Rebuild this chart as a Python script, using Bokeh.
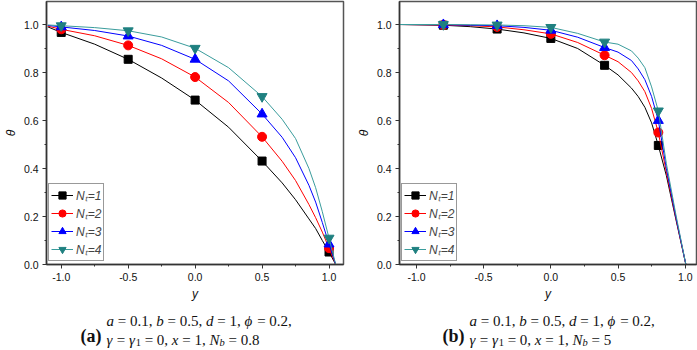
from bokeh.plotting import figure
from bokeh.layouts import row, column
from bokeh.models import (Legend, LegendItem, SingleIntervalTicker,
                          NumeralTickFormatter)
from bokeh.core.properties import value
from bokeh.embed import file_html
from bokeh.resources import INLINE

# ---------------- data ----------------
series_labels = ["N\u209c=1", "N\u209c=2", "N\u209c=3", "N\u209c=4"]

# panel (a): N_b = 0.8
mark_x_a = [-1.0, -0.5, 0.0, 0.5, 1.0]
mark_a1 = [0.967, 0.855, 0.685, 0.431, 0.052]
mark_a2 = [0.980, 0.913, 0.781, 0.532, 0.068]
mark_a3 = [0.990, 0.952, 0.855, 0.627, 0.085]
mark_a4 = [0.995, 0.974, 0.901, 0.700, 0.110]

curve_x_a = [-1.1, -1.0, -0.75, -0.5, -0.25, 0.0, 0.25, 0.5, 0.65, 0.75, 0.85, 0.9, 0.95, 1.0, 1.05]
curve_a1 = [0.990, 0.967, 0.918, 0.855, 0.777, 0.685, 0.572, 0.431, 0.340, 0.270, 0.190, 0.150, 0.100, 0.052, 0.0]
curve_a2 = [0.993, 0.980, 0.953, 0.913, 0.857, 0.781, 0.675, 0.532, 0.430, 0.350, 0.250, 0.195, 0.135, 0.068, 0.0]
curve_a3 = [0.996, 0.990, 0.975, 0.952, 0.913, 0.855, 0.765, 0.627, 0.530, 0.445, 0.330, 0.260, 0.175, 0.085, 0.0]
curve_a4 = [0.998, 0.995, 0.987, 0.974, 0.948, 0.901, 0.820, 0.700, 0.605, 0.525, 0.400, 0.320, 0.220, 0.110, 0.0]

# panel (b): N_b = 5
mark_x_b = [-0.8, -0.4, 0.0, 0.4, 0.8]
mark_b1 = [0.997, 0.981, 0.942, 0.830, 0.496]
mark_b2 = [0.998, 0.990, 0.961, 0.872, 0.550]
mark_b3 = [0.999, 0.995, 0.976, 0.904, 0.600]
mark_b4 = [1.000, 0.998, 0.988, 0.927, 0.640]

curve_x_b = [-1.13, -0.8, -0.6, -0.4, -0.2, 0.0, 0.2, 0.4, 0.5, 0.6, 0.65, 0.7, 0.75, 0.8, 0.86, 0.93, 1.005]
curve_b1 = [1.0, 0.997, 0.991, 0.981, 0.965, 0.942, 0.900, 0.830, 0.790, 0.735, 0.700, 0.655, 0.590, 0.496, 0.370, 0.190, 0.0]
curve_b2 = [1.0, 0.998, 0.995, 0.990, 0.978, 0.961, 0.925, 0.872, 0.845, 0.800, 0.765, 0.720, 0.650, 0.550, 0.385, 0.195, 0.0]
curve_b3 = [1.0, 0.999, 0.997, 0.995, 0.988, 0.976, 0.947, 0.904, 0.885, 0.850, 0.815, 0.770, 0.700, 0.600, 0.400, 0.200, 0.0]
curve_b4 = [1.0, 1.0, 0.999, 0.998, 0.995, 0.988, 0.963, 0.927, 0.918, 0.890, 0.860, 0.820, 0.740, 0.640, 0.420, 0.210, 0.0]

panel_tags = ["(a)", "(b)"]
nb_values = ["0.8", "5"]

# ---------------- styles ----------------
line_colors = ["#000000", "#ff0000", "#0000ff", "#3a9c9c"]
mark_colors = ["#000000", "#ff0000", "#0000ff", "#1f8080"]
markers = ["square", "circle", "triangle", "inverted_triangle"]
msizes = [8, 9, 10, 10]

TW = {' ': 0.25, ',': 0.25, '.': 0.25, '=': 0.564, '(': 0.333, ')': 0.333,
      'a': 0.5, 'b': 0.5, 'd': 0.5, 'x': 0.444, 'N': 0.667, '\u03d5': 0.6,
      '\u03b3': 0.44}

TOP_H = 305


def tw(t):
    return sum(TW.get(c, 0.5) for c in t)


def make_panel(width, fl, fr, xs, ppu, mk_x, mks, cx, cvs):
    frame_w = width - fl - fr
    xe = xs + frame_w / ppu
    ye = 263 / 240.0
    p = figure(width=width, height=TOP_H, x_range=(xs, xe), y_range=(0, ye),
               output_backend="svg", toolbar_location=None,
               min_border_left=fl, min_border_right=fr, min_border_top=1,
               min_border_bottom=TOP_H - 264)
    p.xgrid.visible = False
    p.ygrid.visible = False
    p.outline_line_color = "#555555"
    p.outline_line_width = 1.5
    p.background_fill_color = "white"
    p.border_fill_color = "white"

    p.xaxis.ticker = SingleIntervalTicker(interval=0.5, num_minor_ticks=2)
    p.yaxis.ticker = SingleIntervalTicker(interval=0.2, num_minor_ticks=2)
    for ax in (p.xaxis[0], p.yaxis[0]):
        ax.formatter = NumeralTickFormatter(format="0.0")
        ax.axis_line_color = "#333333"
        ax.axis_line_width = 1.5
        ax.major_tick_line_color = "#333333"
        ax.minor_tick_line_color = "#333333"
        ax.major_tick_in = 0
        ax.major_tick_out = 4
        ax.minor_tick_in = 0
        ax.minor_tick_out = 2
        ax.major_label_text_font = "Liberation Sans"
        ax.major_label_text_font_size = "10.5px"
        ax.major_label_text_color = "#111111"
        ax.major_label_standoff = 4
        ax.axis_label_text_font = "Liberation Sans"
        ax.axis_label_text_font_style = "italic"
        ax.axis_label_text_font_size = "12px"
        ax.axis_label_text_color = "#111111"
        ax.axis_label_standoff = 3
    p.xaxis.axis_label = "y"
    p.yaxis.axis_label = "\u03b8"

    items = []
    for i in range(4):
        r1 = p.line(cx, cvs[i], line_color=line_colors[i], line_width=1)
        r2 = p.scatter(mk_x, mks[i], marker=markers[i], size=msizes[i],
                       fill_color=mark_colors[i], line_color=mark_colors[i])
        items.append(LegendItem(label=series_labels[i], renderers=[r1, r2]))

    leg = Legend(items=items, location=(2, 3), margin=0, padding=2, spacing=0,
                 glyph_width=22, glyph_height=18, label_height=18,
                 label_standoff=3, border_line_color="#333333",
                 border_line_width=1.2, background_fill_alpha=1.0,
                 label_text_font="Liberation Sans",
                 label_text_font_style="italic", label_text_font_size="12px")
    p.add_layout(leg)
    return p


pa = make_panel(348, 41, 5, -1.110, 136.15, mark_x_a,
                [mark_a1, mark_a2, mark_a3, mark_a4], curve_x_a,
                [curve_a1, curve_a2, curve_a3, curve_a4])
pb = make_panel(349, 51, 1, -1.1265, 134.35, mark_x_b,
                [mark_b1, mark_b2, mark_b3, mark_b4], curve_x_b,
                [curve_b1, curve_b2, curve_b3, curve_b4])

# ---------------- caption strip (pixel coordinates) ----------------
CAP_H = 350 - TOP_H
cap = figure(width=697, height=CAP_H, x_range=(0, 697), y_range=(CAP_H, 0),
             output_backend="svg", toolbar_location=None, min_border=0)
cap.axis.visible = False
cap.xgrid.visible = False
cap.ygrid.visible = False
cap.outline_line_color = None
cap.background_fill_color = "white"
cap.border_fill_color = "white"


def put(t, px, py, style, size):
    cap.text(x=[px], y=[py - TOP_H], text=[t],
             text_font=value("Liberation Serif"), text_font_style=style,
             text_font_size=value(f"{size}px"), text_color="#111111",
             text_align="left", text_baseline="alphabetic")


def put_line(segs, px0, py, size):
    cur = px0
    for t, style, sub in segs:
        s = size * 0.7 if sub else size
        lead = len(t) - len(t.lstrip())
        put(t.strip(), cur + tw(t[:lead]) * s, py + (3 if sub else 0), style, s)
        cur += tw(t) * s


tag_x = [80, 442]
line_x = [106, 469]
for k in range(2):
    put(panel_tags[k], tag_x[k], 335, "bold", 18)
    line1 = [("a", "italic", False), (" = 0.1, ", "normal", False),
             ("b", "italic", False), (" = 0.5, ", "normal", False),
             ("d", "italic", False), (" = 1, ", "normal", False),
             ("\u03d5", "italic", False), (" = 0.2,", "normal", False)]
    line2 = [("\u03b3", "italic", False), (" = ", "normal", False),
             ("\u03b3", "italic", False), ("1", "normal", True),
             (" = 0, ", "normal", False), ("x", "italic", False),
             (" = 1, ", "normal", False), ("N", "italic", False),
             ("b", "italic", True), (" = " + nb_values[k], "normal", False)]
    put_line(line1, line_x[k], 320, 15)
    put_line(line2, line_x[k], 339, 15)

layout = column(row(pa, pb, spacing=0), cap, spacing=0)
open("out.html", "w").write(file_html(layout, INLINE))
